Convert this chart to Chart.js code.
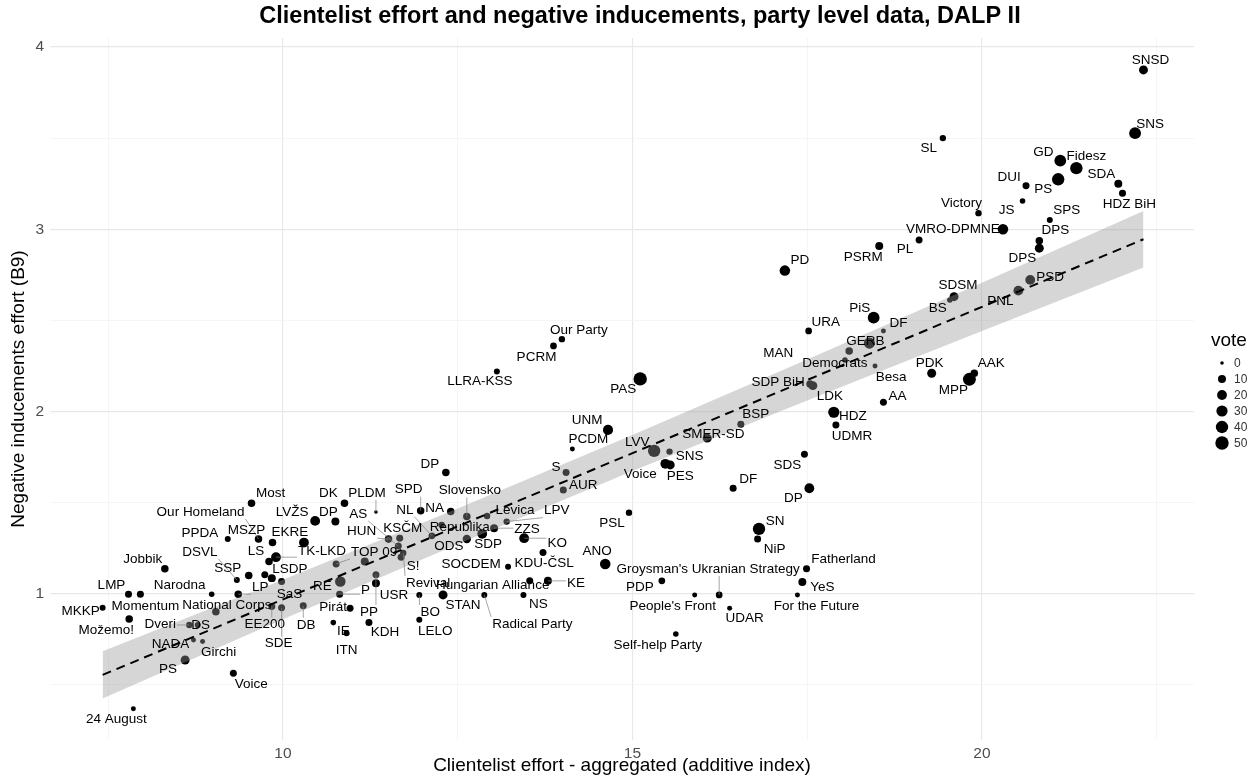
<!DOCTYPE html>
<html>
<head>
<meta charset="utf-8">
<script src="https://cdn.jsdelivr.net/npm/chart.js@4.4.1/dist/chart.umd.min.js"></script>
<style>
  html, body { margin: 0; padding: 0; background: #fff; }
</style>
</head>
<body>
<canvas id="dalp" width="1256" height="783"></canvas>
<script>
const partyNames = [
  'SNSD', 'SNS', 'SL', 'GD', 'Fidesz', 'PS', 'DUI', 'SDA', 'HDZ BiH', 'JS',
  'Victory', 'SPS', 'VMRO-DPMNE', 'DPS', 'DPS', 'PL', 'PSRM', 'PD', 'PSD', 'PNL',
  'SDSM', 'BS', 'PiS', 'URA', 'DF', 'GERB', 'MAN', 'Democrats', 'Besa', 'SDP BiH',
  'LDK', 'PDK', 'MPP', 'AAK', 'AA', 'HDZ', 'UDMR', 'BSP', 'SMER-SD', 'SDS',
  'DF', 'DP', 'SN', 'NiP', 'Fatherland', 'YeS', 'For the Future', "Groysman's Ukranian Strategy", "People's Front", 'UDAR',
  'Self-help Party', 'PDP', 'PAS', 'UNM', 'PCDM', 'LVV', 'SNS', 'Voice', 'PES', 'S',
  'AUR', 'PSL', 'ANO', 'LLRA-KSS', 'PCRM', 'Our Party', 'DP', 'SPD', 'NA', 'NL',
  'Slovensko', 'Levica', 'LPV', 'Republika', 'ODS', 'SDP', 'ZZS', 'KO', 'KDU-ČSL', 'SOCDEM',
  'KE', 'Hungarian Alliance', 'STAN', 'Radical Party', 'NS', 'BO', 'LELO', 'Revival', 'S!', 'AS',
  'KSČM', 'HUN', 'PLDM', 'USR', 'PP', 'KDH', 'ITN', 'IE', 'Pirát', 'P',
  'RE', '', 'TOP 09', 'DB', 'SDE', 'EE200', 'SaS', 'LSDP', '', 'SSP',
  'DSVL', 'LS', 'TK-LKD', 'EKRE', 'MSZP', 'Our Homeland', 'PPDA', 'Most', 'DK', 'LVŽS',
  'DP', 'Jobbik', 'LMP', 'Momentum', 'MKKP', 'Možemo!', 'Narodna', 'LP', 'National Corps', 'Dveri',
  'DS', 'NADA', 'Girchi', 'PS', 'Voice', '24 August'
];

// clientelist effort, aggregated additive index
const effortX = [
  22.31, 22.19, 19.44, 21.12, 21.35, 21.09, 20.63, 21.95, 22.01, 20.58,
  19.95, 20.97, 20.30, 20.82, 20.82, 19.10, 18.53, 17.18, 20.69, 20.52,
  19.60, 19.54, 18.45, 17.52, 18.59, 18.39, 18.10, 18.04, 18.47, 17.54,
  17.58, 19.28, 19.82, 19.89, 18.59, 17.88, 17.91, 16.55, 16.07, 17.46,
  16.44, 17.53, 16.81, 16.79, 17.49, 17.43, 17.36, 16.24, 15.89, 16.39,
  15.62, 15.42, 15.11, 14.65, 14.14, 15.31, 15.53, 15.47, 15.54, 14.05,
  14.01, 14.95, 14.61, 13.06, 13.87, 13.99, 12.33, 11.97, 12.40, 12.13,
  12.63, 12.92, 13.20, 12.27, 12.63, 12.85, 13.02, 13.45, 13.72, 13.22,
  13.79, 13.53, 12.29, 12.88, 13.44, 11.95, 11.95, 11.72, 11.69, 11.65,
  11.67, 11.51, 11.33, 11.33, 11.33, 11.23, 10.91, 10.72, 10.96, 10.81,
  10.82, 11.17, 10.76, 10.29, 9.98, 9.84, 9.98, 9.84, 9.74, 9.51,
  9.34, 9.80, 9.90, 10.30, 9.85, 9.65, 9.21, 9.55, 10.88, 10.46,
  10.75, 8.31, 7.79, 7.96, 7.42, 7.80, 8.98, 9.36, 9.04, 8.66,
  8.78, 8.72, 8.85, 8.60, 9.29, 7.86
];

// negative inducements effort (B9)
const negIndY = [
  3.874, 3.527, 3.50, 3.376, 3.335, 3.274, 3.238, 3.249, 3.197, 3.155,
  3.088, 3.051, 3.00, 2.937, 2.896, 2.941, 2.908, 2.773, 2.722, 2.663,
  2.630, 2.612, 2.515, 2.442, 2.442, 2.375, 2.332, 2.283, 2.250, 2.151,
  2.142, 2.210, 2.177, 2.210, 2.051, 1.996, 1.926, 1.930, 1.854, 1.766,
  1.579, 1.579, 1.356, 1.300, 1.138, 1.065, 0.994, 0.994, 0.994, 0.921,
  0.780, 1.071, 2.179, 1.899, 1.795, 1.784, 1.780, 1.713, 1.707, 1.665,
  1.570, 1.445, 1.164, 2.219, 2.360, 2.397, 1.665, 1.456, 1.451, 1.318,
  1.424, 1.427, 1.396, 1.378, 1.301, 1.329, 1.360, 1.305, 1.226, 1.149,
  1.071, 1.071, 0.994, 0.994, 0.994, 0.994, 0.857, 1.224, 1.200, 1.262,
  1.305, 1.300, 1.449, 1.058, 1.104, 0.842, 0.784, 0.842, 0.921, 0.998,
  1.067, 1.177, 1.164, 0.934, 0.924, 0.930, 1.067, 1.086, 1.104, 1.100,
  1.076, 1.177, 1.201, 1.281, 1.281, 1.301, 1.300, 1.497, 1.497, 1.400,
  1.396, 1.137, 0.998, 0.998, 0.924, 0.862, 0.998, 0.998, 0.902, 0.829,
  0.829, 0.747, 0.738, 0.637, 0.564, 0.369
];

const voteShare = [
  15, 35, 4, 35, 40, 40, 6, 10, 6, 2,
  4, 3, 25, 8, 15, 6, 10, 25, 20, 20,
  15, 2, 35, 5, 1, 30, 8, 2, 1, 8,
  15, 15, 45, 8, 6, 30, 6, 6, 15, 6,
  6, 20, 40, 6, 6, 10, 1, 5, 1, 1,
  2, 5, 50, 22, 1, 40, 4, 20, 15, 6,
  6, 4, 25, 3, 5, 4, 8, 8, 8, 5,
  8, 4, 4, 4, 12, 20, 10, 20, 6, 3,
  10, 6, 15, 3, 3, 3, 3, 4, 6, 6,
  6, 8, 0, 10, 6, 6, 3, 2, 6, 6,
  25, 10, 6, 6, 6, 6, 6, 10, 6, 8,
  3, 8, 20, 20, 8, 8, 3, 8, 8, 20,
  10, 8, 6, 6, 3, 8, 2, 8, 8, 4,
  3, 1, 1, 15, 6, 1
];

// where the repelled label sits, in pixels from its point
const labelDx = [
  7, 15, -14, -17, 10, -15, -17, -17, 7, -16,
  -17, 17, -50, 16, -17, -14, -16, 15, 20, -18,
  4, -12, -14, 17, 15, -4, -71, -10, 16, -32,
  17, -2, -16, 17, 14, 19, 16, 15, 6, -17,
  15, -16, 16, 17, 37, 20, 19, -11, -22, 15,
  -18, -22, -17, -21, 16, -17, 20, -25, 10, -10,
  20, -17, -8, -17, -17, 17, -16, -12, -16, -27,
  3, 28, 50, 18, -18, 6, 33, 33, 1, -37,
  28, -37, 20, 48, 15, 11, 16, 25, 12, -40,
  3, -27, -9, 18, -7, 16, 0, 10, -17, 26,
  -18, 0, 38, 3, -3, -7, 8, 18, 0, -21,
  -37, -13, 46, -14, -26, -58, -28, 19, -16, -23,
  -7, -22, -17, 5, -22, -23, -32, 22, 11, -29,
  3, -23, 16, -17, 18, -17
];
const labelDy = [
  -10, -9, 10, -8, -12, 10, -9, -10, 11, 9,
  -10, -10, 0, -10, 10, 9, 11, -10, -3, 11,
  -11, 8, -9, -9, -8, -2, 2, 3, 11, -2,
  11, -10, 11, -10, -6, 4, 11, -10, -4, 11,
  -9, 10, -8, 10, -9, 5, 11, -26, 11, 10,
  11, 6, 10, -10, -10, -9, 5, 10, 11, -5,
  -5, 11, -13, 10, 11, -9, -8, -21, -3, -26,
  -26, -6, -11, 2, 7, 10, 1, 5, 11, -2,
  2, 4, 10, 29, 9, 17, 11, 30, 9, -32,
  -10, -8, -19, 12, 37, 10, 17, 9, -1, -4,
  5, 0, -12, 19, 36, 18, 13, -9, 0, -7,
  -28, -10, -6, -10, -12, -27, -6, -10, -10, -9,
  -9, -10, -9, 12, 4, 11, -9, -7, -6, -1,
  0, 4, 11, 9, 11, 10
];
// labels whose segment is not visible in the original
const noSegment = ['MAN'];

// linear fit and its confidence band
const fitX = [7.42, 22.31];
const fitY = [0.555, 2.945];
const ribbonX = [7.42, 10, 12.5, 15, 17.5, 20, 22.31];
const ribbonLo = [0.425, 0.861, 1.272, 1.673, 2.061, 2.441, 2.790];
const ribbonHi = [0.685, 1.077, 1.468, 1.871, 2.285, 2.707, 3.100];

const xMajorTicks = [10, 15, 20];
const xMinorTicks = [7.5, 12.5, 17.5, 22.5];
const yMajorTicks = [1, 2, 3, 4];
const yMinorTicks = [0.5, 1.5, 2.5, 3.5];
const legendVotes = [0, 10, 20, 30, 40, 50];

const FONT = '"Liberation Sans", Arial, Helvetica, sans-serif';
Chart.defaults.font.family = FONT;

function voteRadius(v) {
  return 1.8 + 4.9 * Math.sqrt(Math.max(v, 0) / 50);
}

const partyPoints = effortX.map((x, i) => ({ x: x, y: negIndY[i] }));
const lowerBand = ribbonX.map((x, i) => ({ x: x, y: ribbonLo[i] }));
const upperBand = ribbonX.map((x, i) => ({ x: x, y: ribbonHi[i] }));
const fitLine = fitX.map((x, i) => ({ x: x, y: fitY[i] }));

// ggrepel-ish text labels with grey segments
const partyLabels = {
  id: 'partyLabels',
  afterDatasetsDraw(chart) {
    const ctx = chart.ctx;
    const meta = chart.getDatasetMeta(0);
    ctx.save();
    ctx.font = '13.5px ' + FONT;
    ctx.textAlign = 'center';
    ctx.textBaseline = 'middle';
    const boxes = partyNames.map((name, i) => {
      const pt = meta.data[i];
      return {
        name: name, px: pt.x, py: pt.y,
        cx: pt.x + labelDx[i], cy: pt.y + labelDy[i],
        w: ctx.measureText(name).width, h: 14
      };
    });
    ctx.strokeStyle = '#808080';
    ctx.lineWidth = 0.7;
    boxes.forEach(b => {
      if (!b.name || noSegment.includes(b.name)) return;
      const nx = Math.max(b.cx - b.w / 2 - 1, Math.min(b.px, b.cx + b.w / 2 + 1));
      const ny = Math.max(b.cy - b.h / 2, Math.min(b.py, b.cy + b.h / 2));
      if (Math.hypot(nx - b.px, ny - b.py) > 10) {
        ctx.beginPath();
        ctx.moveTo(b.px, b.py);
        ctx.lineTo(nx, ny);
        ctx.stroke();
      }
    });
    ctx.fillStyle = '#000';
    boxes.forEach(b => { if (b.name) ctx.fillText(b.name, b.cx, b.cy); });
    ctx.restore();
  }
};

// plot title and the size legend for vote
const titleAndLegend = {
  id: 'titleAndLegend',
  afterDraw(chart) {
    const ctx = chart.ctx;
    ctx.save();
    ctx.fillStyle = '#000';
    ctx.font = 'bold 23.5px ' + FONT;
    ctx.textAlign = 'center';
    ctx.textBaseline = 'middle';
    ctx.fillText('Clientelist effort and negative inducements, party level data, DALP II', 640, 17);

    ctx.textAlign = 'left';
    ctx.font = '19px ' + FONT;
    ctx.fillText('vote', 1211, 341);
    ctx.font = '12px ' + FONT;
    legendVotes.forEach((v, i) => {
      const y = 363 + i * 16;
      ctx.fillStyle = '#000';
      ctx.beginPath();
      ctx.arc(1222, y, voteRadius(v), 0, Math.PI * 2);
      ctx.fill();
      ctx.fillStyle = '#333';
      ctx.fillText(String(v), 1234, y + 1);
    });
    ctx.restore();
  }
};

function gridTicks(minor, major) {
  return minor.concat(major).sort((a, b) => a - b).map(v => ({ value: v }));
}

new Chart(document.getElementById('dalp'), {
  type: 'scatter',
  data: {
    datasets: [
      {
        label: 'vote',
        data: partyPoints,
        order: 3,
        backgroundColor: '#000',
        borderWidth: 0,
        pointRadius: ctx => voteRadius(voteShare[ctx.dataIndex]),
        pointHoverRadius: ctx => voteRadius(voteShare[ctx.dataIndex])
      },
      {
        type: 'line',
        label: 'lower',
        data: lowerBand,
        order: 2,
        borderColor: 'rgba(0,0,0,0)',
        borderWidth: 0,
        pointRadius: 0,
        fill: false
      },
      {
        type: 'line',
        label: 'upper',
        data: upperBand,
        order: 2,
        borderColor: 'rgba(0,0,0,0)',
        borderWidth: 0,
        pointRadius: 0,
        backgroundColor: 'rgba(153,153,153,0.4)',
        fill: '-1'
      },
      {
        type: 'line',
        label: 'fit',
        data: fitLine,
        order: 1,
        borderColor: '#000',
        borderWidth: 2,
        borderDash: [9, 6],
        pointRadius: 0,
        fill: false
      }
    ]
  },
  options: {
    responsive: false,
    animation: false,
    events: [],
    layout: { padding: { top: 38, right: 62, left: 0, bottom: 0 } },
    plugins: {
      legend: { display: false },
      tooltip: { enabled: false },
      title: { display: false }
    },
    scales: {
      x: {
        type: 'linear',
        min: 6.667,
        max: 23.033,
        afterBuildTicks: s => { s.ticks = gridTicks(xMinorTicks, xMajorTicks); },
        afterFit: s => { s.height = 43; },
        border: { display: false },
        grid: {
          drawTicks: false,
          color: c => (c.tick && xMajorTicks.includes(c.tick.value)) ? '#e8e8e8' : '#f2f2f2',
          lineWidth: c => (c.tick && xMajorTicks.includes(c.tick.value)) ? 1.2 : 0.8
        },
        ticks: {
          padding: 4,
          autoSkip: false,
          maxRotation: 0,
          color: '#4d4d4d',
          font: { size: 15.5 },
          callback: v => xMajorTicks.includes(v) ? String(v) : ''
        },
        title: {
          display: true,
          text: 'Clientelist effort - aggregated (additive index)',
          color: '#000',
          font: { size: 19 },
          padding: { top: 0, bottom: 6 }
        }
      },
      y: {
        type: 'linear',
        min: 0.198,
        max: 4.049,
        afterBuildTicks: s => { s.ticks = gridTicks(yMinorTicks, yMajorTicks); },
        afterFit: s => { s.width = 50; },
        border: { display: false },
        grid: {
          drawTicks: false,
          color: c => (c.tick && yMajorTicks.includes(c.tick.value)) ? '#e8e8e8' : '#f2f2f2',
          lineWidth: c => (c.tick && yMajorTicks.includes(c.tick.value)) ? 1.2 : 0.8
        },
        ticks: {
          padding: 6,
          autoSkip: false,
          color: '#4d4d4d',
          font: { size: 15.5 },
          callback: v => yMajorTicks.includes(v) ? String(v) : ''
        },
        title: {
          display: true,
          text: 'Negative inducements effort (B9)',
          color: '#000',
          font: { size: 19 },
          padding: { top: 7, bottom: 0 }
        }
      }
    }
  },
  plugins: [partyLabels, titleAndLegend]
});
</script>
</body>
</html>
